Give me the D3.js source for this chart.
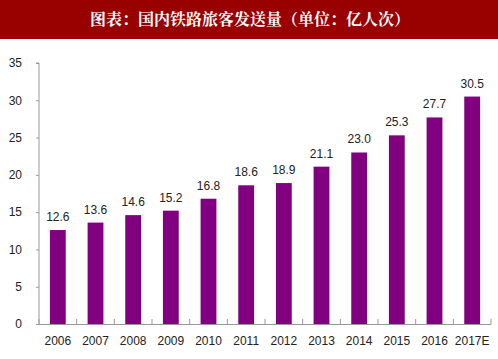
<!DOCTYPE html>
<html><head><meta charset="utf-8">
<script src="https://cdn.jsdelivr.net/npm/d3@7"></script>
<style>body{margin:0;background:#fff}svg{display:block}</style>
</head><body><svg id="c" width="498" height="359"></svg>
<script>
const categories = ["2006","2007","2008","2009","2010","2011","2012","2013","2014","2015","2016","2017E"];
const values = [12.6,13.6,14.6,15.2,16.8,18.6,18.9,21.1,23.0,25.3,27.7,30.5];
const labels = ["12.6","13.6","14.6","15.2","16.8","18.6","18.9","21.1","23.0","25.3","27.7","30.5"];
const yTicks = [0,5,10,15,20,25,30,35];
const title = "图表：国内铁路旅客发送量（单位：亿人次）";

(function(){
const svg = d3.select("#c");
svg.append("rect").attr("x",0).attr("y",0).attr("width",498).attr("height",39).attr("fill","#990000");
svg.append("text").attr("x",250).attr("y",25).attr("text-anchor","middle")
  .attr("fill","#fff").attr("font-size",16).attr("font-weight","bold")
  .attr("font-family","'Noto Serif CJK SC','Noto Sans CJK SC',serif").text(title);

const pl=39, pr=491, pt=63, pb=324;
const x = d3.scaleBand().domain(categories).range([pl,pr]).paddingInner(0.58).paddingOuter(0.29);
const y = d3.scaleLinear().domain([0,35]).range([pb,pt]);
const font = "Arial, 'Liberation Sans', sans-serif";

svg.selectAll(".bar").data(values).join("rect")
  .attr("x",(d,i)=>x(categories[i])).attr("width",x.bandwidth())
  .attr("y",d=>y(d)).attr("height",d=>pb-y(d)).attr("fill","#800080");

svg.selectAll(".lbl").data(values).join("text")
  .attr("x",(d,i)=>x(categories[i])+x.bandwidth()/2).attr("y",d=>y(d)-9)
  .attr("text-anchor","middle").attr("font-size",12).attr("font-family",font).attr("fill","#222")
  .text((d,i)=>labels[i]);

const ya = svg.append("g").attr("transform",`translate(${pl},0)`)
  .call(d3.axisLeft(y).tickValues(yTicks).tickSize(3).tickPadding(14));
ya.select(".domain").attr("stroke","#999").attr("d",`M-3,${pt}H0V${pb}`);
ya.selectAll(".tick line").attr("stroke","#999");
ya.selectAll("text").attr("font-size",12).attr("font-family",font).attr("fill","#222");

const xa = svg.append("g").attr("transform",`translate(0,${pb})`);
xa.append("line").attr("x1",pl).attr("x2",pr).attr("y1",0.5).attr("y2",0.5).attr("stroke","#999");
const bounds = d3.range(categories.length+1).map(i=>pl+i*(pr-pl)/categories.length);
xa.selectAll(".tk").data(bounds).join("line")
  .attr("x1",d=>d).attr("x2",d=>d).attr("y1",-5).attr("y2",0.5).attr("stroke","#999");
xa.selectAll(".xl").data(categories).join("text")
  .attr("x",d=>x(d)+x.bandwidth()/2).attr("y",21)
  .attr("text-anchor","middle").attr("font-size",12).attr("font-family",font).attr("fill","#222")
  .text(d=>d);
})();
</script></body></html>
